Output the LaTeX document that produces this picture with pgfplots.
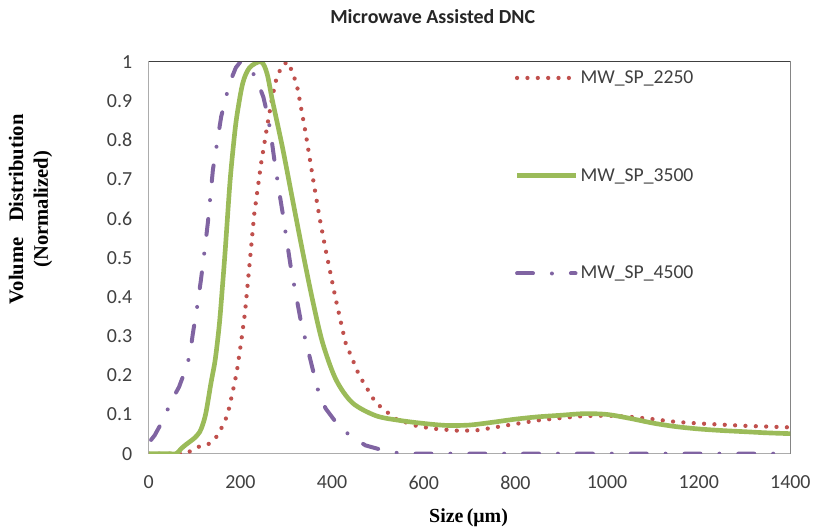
\documentclass[border=0pt]{standalone}
\usepackage{pgfplots}
\pgfplotsset{compat=1.18}
\usepackage{fontspec}
\setmainfont{Carlito}
\newfontfamily\timesf{Liberation Serif}
\definecolor{exred}{HTML}{C0504D}
\definecolor{exgreen}{HTML}{9BBB59}
\definecolor{expurple}{HTML}{8064A2}
\definecolor{txt}{HTML}{404040}
\begin{document}
\begin{tikzpicture}
\begin{axis}[
  scale only axis, width=483pt, height=295pt,
  xmin=0, xmax=1400, ymin=0, ymax=1,
  xtick={0,200,...,1400}, ytick={0,0.1,...,1.0},
  major tick length=0pt,
  /pgf/number format/assume math mode=true,
  /pgf/number format/set thousands separator={},
  tick label style={font=\fontsize{15}{18}\selectfont, text=txt},
  yticklabel style={/pgf/number format/fixed, /pgf/number format/precision=1, xshift=-9pt},
  xticklabel style={yshift=-13pt},
  axis line style={draw=gray!65, line width=0.9pt},
  legend style={draw=none, fill=none, at={(rel axis cs:0.570,0.985)}, anchor=north west,
    font=\fontsize{14.8}{17}\selectfont, text=txt, row sep=58.5pt, inner sep=0pt,
    cells={anchor=west}},
  legend image code/.code={\draw[#1] (0pt,0pt) -- (44pt,0pt);},
  legend cell align=left,
]
\addplot[exred, line width=3.2pt, line cap=round, dash pattern=on 0pt off 7.8pt] coordinates {
(0,0) (80,0) (87,0.004) (107,0.017) (129,0.023) (147,0.042) (158,0.064) (167,0.085) (174,0.11) (183,0.157) (192,0.208) (201,0.28) (210,0.36) (218,0.46) (230,0.61) (245,0.74) (259,0.84) (268,0.90) (277,0.95) (290,0.99) (303,1.0) (315,0.97) (325,0.93) (342,0.82) (360,0.69) (373,0.60) (386,0.52) (408,0.394) (429,0.284) (459,0.20) (495,0.13) (538,0.089) (580,0.072) (618,0.064) (680,0.058) (720,0.06) (780,0.072) (850,0.085) (900,0.091) (950,0.096) (1000,0.097) (1050,0.094) (1100,0.088) (1150,0.081) (1200,0.077) (1250,0.074) (1300,0.071) (1350,0.069) (1400,0.067)
};
\addlegendentry{MW\_SP\_2250}
\addplot[exgreen, line width=3.5pt, smooth] coordinates {
(0,0) (40,0) (60,0) (70,0.012) (80,0.022) (89,0.03) (100,0.04) (111,0.055) (118,0.075) (125,0.106) (136,0.182) (145,0.24) (154,0.33) (161,0.43) (167,0.522) (177,0.69) (185,0.79) (192,0.86) (205,0.945) (220,0.985) (245,1.0) (258,0.97) (270,0.90) (292,0.78) (313.6,0.649) (335,0.52) (357,0.394) (379,0.284) (408,0.19) (444,0.13) (495,0.097) (546,0.085) (600,0.077) (650,0.072) (700,0.073) (750,0.08) (800,0.088) (850,0.094) (900,0.098) (950,0.102) (1000,0.1) (1050,0.09) (1100,0.078) (1150,0.069) (1200,0.063) (1250,0.059) (1300,0.056) (1350,0.053) (1400,0.051)
};
\addlegendentry{MW\_SP\_3500}
\addplot[expurple, line width=3pt, line cap=round, dash pattern=on 12pt off 14.25pt on 0pt off 14.25pt] coordinates {
(5,0.035) (13,0.047) (35,0.094) (46,0.127) (66,0.17) (82,0.22) (90,0.254) (96,0.305) (105,0.37) (114,0.445) (122,0.52) (129,0.59) (140,0.725) (150,0.80) (158,0.86) (176,0.945) (190,0.985) (200,1.0) (215,0.99) (234,0.96) (250,0.91) (260,0.86) (267,0.81) (274,0.75) (283,0.68) (292,0.615) (310,0.475) (332,0.337) (361,0.20) (372,0.15) (386,0.115) (411,0.076) (440,0.045) (473,0.021) (513,0.008) (550,0) (1400,0)
};
\addlegendentry{MW\_SP\_4500}
\draw[draw=black!75, line width=1pt] (rel axis cs:0,1) -- (rel axis cs:1,1) -- (rel axis cs:1,0);
\end{axis}
\node[font=\bfseries\fontsize{15}{18}\selectfont, text=black!85] at (213.75pt,329pt) {Microwave Assisted DNC};
\node[font=\timesf\bfseries\fontsize{15.5}{18.5}\selectfont, rotate=90, align=center] at (-89pt,184pt) {Volume\ \ \ Distribution\\(Normalized)};
\node[font=\timesf\bfseries\fontsize{15}{18}\selectfont] at (240.75pt,-48pt) {Size\,(μm)};
\path (-112pt,-58.5pt) rectangle (499.5pt,341.5pt);
\end{tikzpicture}
\end{document}
